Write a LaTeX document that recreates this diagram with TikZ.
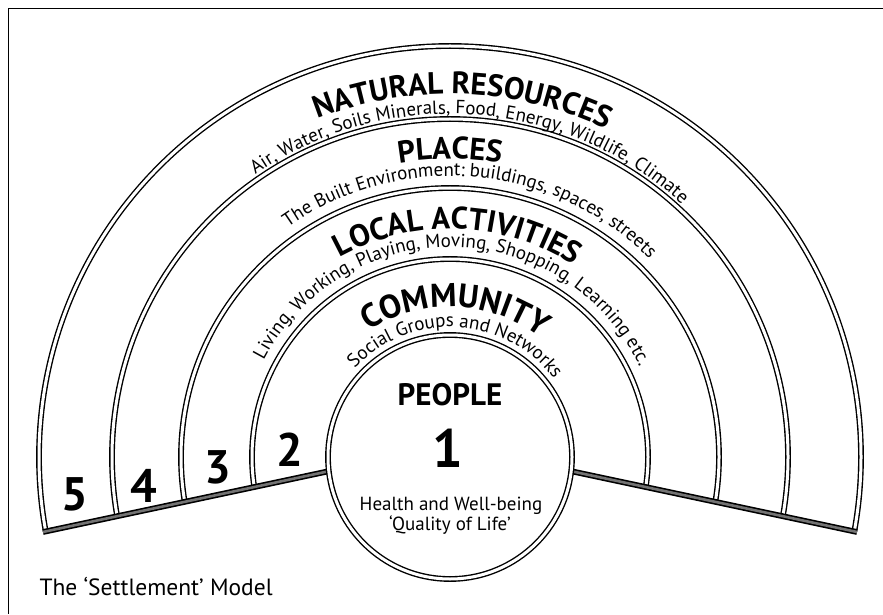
\documentclass[tikz,border=0pt]{standalone}
\usepackage{fontspec}
\setmainfont{PT Sans}
\usetikzlibrary{decorations.text}

\newcommand\ringhead{\bfseries\fontsize{31}{34}\selectfont}
\newcommand\ringsub{\fontsize{19}{21}\selectfont}

\begin{document}
\begin{tikzpicture}[x=1pt, y=1pt,
    ring/.style={draw, line width=1.4pt, double=white, double distance=3pt},
    rim/.style={line width=1.6pt, double=black!55, double distance=2.6pt},
    number/.style={font=\bfseries\fontsize{47}{47}\selectfont, inner sep=0pt}]
\useasboundingbox (0,0) rectangle (883,614);
% frame
\draw[line width=0.9pt] (883,606) -- (8,606) -- (8,0);

\coordinate (o) at (450,157);
\coordinate (bl) at (43,82);
\coordinate (peak) at (450,168.6);
\coordinate (br) at (857,82);

% rings 2 to 5, cut off along the base
\begin{scope}
  \clip (0,72.85) -- (peak) -- (900,72.85) -- (900,614) -- (0,614) -- cycle;
  \foreach \r in {198,269,338,411}
    \draw[ring] (o) circle[radius=\r pt];
\end{scope}
\draw[rim] (bl) -- (peak) -- (br);

% people in the middle
\node[ring, circle, fill=white, minimum size=244pt, inner sep=0pt] (people) at (o) {};
\node[font=\bfseries\fontsize{31}{34}\selectfont, anchor=base] (peoplelabel) at (450,209) {PEOPLE};
\node[font=\bfseries\fontsize{54}{54}\selectfont, anchor=base] (one) at (448,147) {1};
\node[font=\fontsize{19}{21}\selectfont, anchor=base] (health) at (451,104) {Health and Well-being};
\node[font=\fontsize{19}{21}\selectfont, anchor=base] (quality) at (450,84) {‘Quality of Life’};

% ring titles
\path[decorate, decoration={text along path, text align=center, text={|\ringhead|NATURAL RESOURCES}}]
  (o) ++(178:363pt) arc[start angle=178, end angle=-2, radius=363pt];
\path[decorate, decoration={text along path, text align=center, text={|\ringsub|Air, Water, Soils Minerals, Food, Energy, Wildlife, Climate}}]
  (o) ++(176:343pt) arc[start angle=176, end angle=-4, radius=343pt];
\path[decorate, decoration={text along path, text align=center, text={|\ringhead|PLACES}}]
  (o) ++(180:298pt) arc[start angle=180, end angle=0, radius=298pt];
\path[decorate, decoration={text along path, text align=center, text={|\ringsub|The Built Environment: buildings, spaces, streets}}]
  (o) ++(175:281pt) arc[start angle=175, end angle=-5, radius=281pt];
\path[decorate, decoration={text along path, text align=center, text={|\ringhead|LOCAL ACTIVITIES}}]
  (o) ++(178:228pt) arc[start angle=178, end angle=-2, radius=228pt];
\path[decorate, decoration={text along path, text align=center, text={|\ringsub|Living, Working, Playing, Moving, Shopping, Learning etc.}}]
  (o) ++(179:210pt) arc[start angle=179, end angle=-1, radius=210pt];
\path[decorate, decoration={text along path, text align=center, text={|\bfseries\fontsize{33}{36}\selectfont|COMMUNITY}}]
  (o) ++(178:150pt) arc[start angle=178, end angle=-2, radius=150pt];
\path[decorate, decoration={text along path, text align=center, text={|\ringsub|Social Groups and Networks}}]
  (o) ++(177:130pt) arc[start angle=177, end angle=-3, radius=130pt];

% ring numbers
\node[number] (n2) at (290,164) {2};
\node[number] (n3) at (218,147) {3};
\node[number] (n4) at (144,128) {4};
\node[number] (n5) at (75,120) {5};

\node[font=\fontsize{23.5}{26}\selectfont, anchor=base west] (caption) at (36,19) {The ‘Settlement’ Model};
\end{tikzpicture}
\end{document}
